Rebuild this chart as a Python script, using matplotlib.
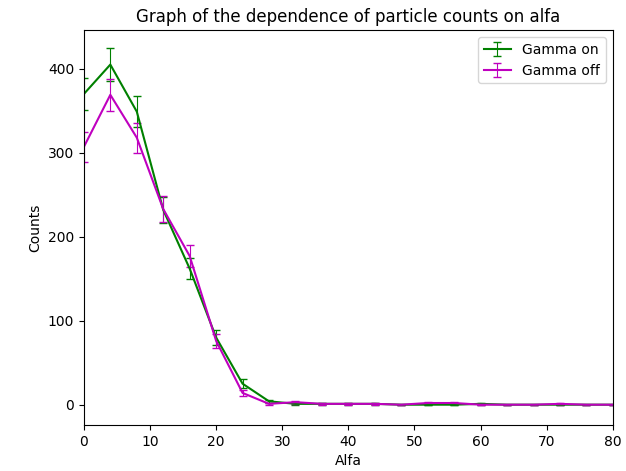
import matplotlib
matplotlib.use("Agg")
import matplotlib.pyplot as plt

alfa = [0, 4, 8, 12, 16, 20, 24, 28, 32, 36, 40, 44, 48, 52, 56, 60, 64, 68, 72, 76, 80]
gamma_on = [370, 405, 349, 232, 162, 80, 25, 4, 1, 1, 1, 1, 0, 0, 0, 1, 0, 0, 0, 0, 0]
gamma_off = [307, 369, 318, 233, 177, 76, 14, 1, 3, 1, 1, 1, 0, 2, 2, 0, 0, 0, 1, 0, 0]
err_on = [19.2, 20.1, 18.7, 15.2, 12.7, 8.9, 5.0, 2.0, 1.0, 1.0, 1.0, 1.0, 0, 0, 0, 1.0, 0, 0, 0, 0, 0]
err_off = [17.5, 19.2, 17.8, 15.3, 13.3, 8.7, 3.7, 1.0, 1.7, 1.0, 1.0, 1.0, 0, 1.4, 1.4, 0, 0, 0, 1.0, 0, 0]

fig, ax = plt.subplots(figsize=(6.26, 4.71), dpi=100)
fig.subplots_adjust(left=0.134, right=0.979, top=0.936, bottom=0.098)
ax.errorbar(alfa, gamma_on, yerr=err_on, color="green", capsize=3, elinewidth=0.8, label="Gamma on")
ax.errorbar(alfa, gamma_off, yerr=err_off, color="m", capsize=3, elinewidth=0.8, label="Gamma off")
ax.set_xlim(0, 80)
ax.set_ylim(-24, 446)
ax.set_title("Graph of the dependence of particle counts on alfa")
ax.set_xlabel("Alfa")
ax.set_ylabel("Counts")
ax.legend(loc="upper right")
fig.savefig("out.png", dpi=100)
